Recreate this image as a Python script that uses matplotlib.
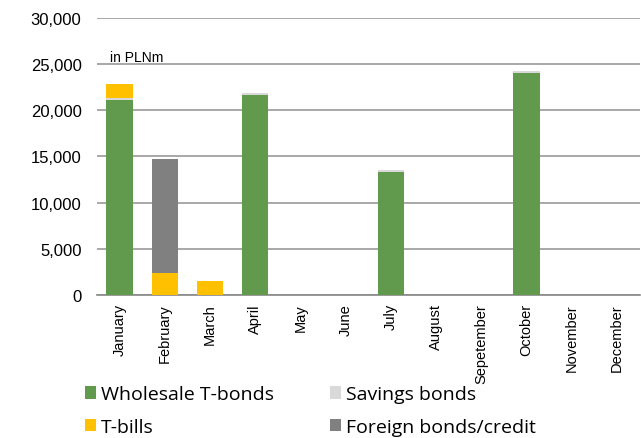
import matplotlib.pyplot as plt
import numpy as np

months = ['January', 'February', 'March', 'April', 'May', 'June', 'July',
          'August', 'Sepetember', 'October', 'November', 'December']
wholesale = [21100, 0, 0, 21700, 0, 0, 13350, 0, 0, 24000, 0, 0]
savings = [200, 0, 0, 180, 0, 0, 180, 0, 0, 200, 0, 0]
tbills = [1500, 2380, 1500, 0, 0, 0, 0, 0, 0, 0, 0, 0]
foreign = [0, 12370, 0, 0, 0, 0, 0, 0, 0, 0, 0, 0]

plt.rcParams['font.family'] = ['Liberation Sans', 'DejaVu Sans']

fig = plt.figure(figsize=(6.41, 4.39), dpi=100)
ax = fig.add_axes([0.151, 0.326, 0.847, 0.631])

x = np.arange(len(months))
w = 0.58
b1 = np.array(wholesale)
b2 = b1 + np.array(savings)
b3 = b2 + np.array(tbills)
ax.bar(x, wholesale, w, color='#629A4D', label='Wholesale T-bonds', zorder=3)
ax.bar(x, savings, w, bottom=b1, color='#D9D9D9', label='Savings bonds', zorder=3)
ax.bar(x, tbills, w, bottom=b2, color='#FFC000', label='T-bills', zorder=3)
ax.bar(x, foreign, w, bottom=b3, color='#808080', label='Foreign bonds/credit', zorder=3)

ax.set_ylim(0, 30000)
ax.set_xlim(-0.5, 11.5)
ax.set_yticks(range(0, 30001, 5000))
ax.set_yticklabels([f'{v:,}' for v in range(0, 30001, 5000)], fontsize=12)
ax.set_xticks(x)
ax.set_xticklabels(months, rotation=90, fontsize=10.5)
ax.tick_params(length=0)
ax.tick_params(axis='y', pad=11)
ax.tick_params(axis='x', pad=6)
ax.yaxis.grid(True, color='#999999', linewidth=1.2, zorder=0)
for s in ['top', 'right', 'left']:
    ax.spines[s].set_visible(False)
ax.spines['bottom'].set_color('#888888')
ax.spines['bottom'].set_linewidth(1.2)

ax.text(-0.2, 25300, 'in PLNm', fontsize=10)

# legenda abajo en dos columnas
h, l = ax.get_legend_handles_labels()
order = [0, 2, 1, 3]
fig.legend([h[i] for i in order], [l[i] for i in order], ncol=2,
           loc='lower left', bbox_to_anchor=(0.105, -0.035), frameon=False,
           handlelength=0.6, handleheight=0.6, handletextpad=0.25,
           columnspacing=2.85, labelspacing=0.75, prop={'family': 'Open Sans', 'size': 14})

fig.savefig('out.png', dpi=100)
